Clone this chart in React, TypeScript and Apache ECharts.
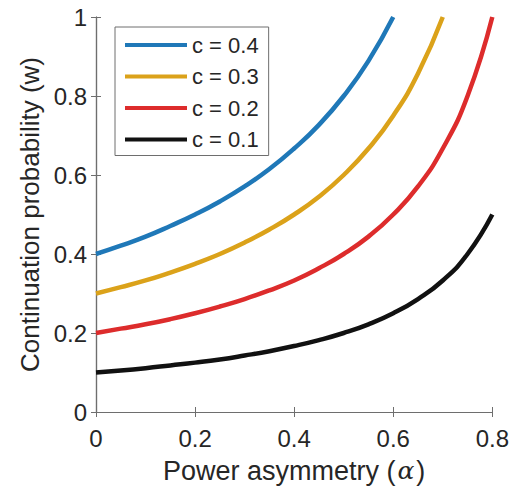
import React, { useEffect, useRef } from "react";
import * as echarts from "echarts";

const alpha = [0, 0.05, 0.1, 0.15, 0.2, 0.25, 0.3, 0.35, 0.4, 0.45, 0.5, 0.55, 0.6, 0.65, 0.7, 0.75, 0.8];
const seriesNames = ["c = 0.4", "c = 0.3", "c = 0.2", "c = 0.1"];
const w04 = [0.40, 0.421, 0.444, 0.471, 0.50, 0.533, 0.571, 0.615, 0.667, 0.727, 0.80, 0.889, 1.0];
const w03 = [0.30, 0.316, 0.333, 0.353, 0.375, 0.40, 0.429, 0.462, 0.50, 0.545, 0.60, 0.667, 0.75, 0.857, 1.0];
const w02 = [0.20, 0.211, 0.222, 0.235, 0.25, 0.267, 0.286, 0.308, 0.333, 0.364, 0.40, 0.444, 0.50, 0.571, 0.667, 0.80, 1.0];
const w01 = [0.10, 0.105, 0.111, 0.118, 0.125, 0.133, 0.143, 0.154, 0.167, 0.182, 0.20, 0.222, 0.25, 0.286, 0.333, 0.40, 0.50];
const colors = ["#1f78b8", "#dba21a", "#dd2c2c", "#111111"];

const FONT = "Liberation Sans, Arial, sans-serif";
const TXT = "#262626";
const AX = "#6e6e6e";

export default function App() {
  const ref = useRef<HTMLDivElement>(null);
  useEffect(() => {
    const chart = echarts.init(ref.current!, null, { renderer: "svg" });
    const allW = [w04, w03, w02, w01];
    const fmt = (v: number) => String(Number(v.toFixed(2)));
    const axisCommon = {
      axisLine: { show: true, lineStyle: { color: AX, width: 1.2 } },
      axisTick: { show: true, inside: true, length: 5, lineStyle: { color: AX } },
      splitLine: { show: false },
    };
    chart.setOption({
      animation: false,
      backgroundColor: "#ffffff",
      grid: { left: 96, right: 19, top: 17, bottom: 82, containLabel: false },
      legend: {
        orient: "vertical",
        left: 115,
        top: 27,
        data: seriesNames,
        icon: "rect",
        itemWidth: 62,
        itemHeight: 4,
        itemGap: 9.5,
        padding: [7, 10, 5, 10],
        backgroundColor: "#ffffff",
        borderColor: AX,
        borderWidth: 1,
        borderRadius: 0,
        textStyle: { color: TXT, fontSize: 22, lineHeight: 22, fontFamily: FONT },
      },
      xAxis: [
        {
          type: "value",
          min: 0,
          max: 0.8,
          interval: 0.2,
          name: "Power asymmetry ({a|\u03b1})",
          nameLocation: "middle",
          nameGap: 45,
          nameTextStyle: {
            color: TXT,
            fontSize: 27,
            fontFamily: FONT,
            rich: {
              a: { fontFamily: "DejaVu Serif, serif", fontStyle: "italic", fontSize: 25, color: TXT, padding: [0, 2, 0, 2] },
            },
          },
          axisLabel: { color: TXT, fontSize: 24, fontFamily: FONT, margin: 14, formatter: fmt },
          ...axisCommon,
        },
        {
          type: "value",
          position: "top",
          min: 0,
          max: 0.8,
          interval: 0.2,
          axisLabel: { show: false },
          ...axisCommon,
        },
      ],
      yAxis: [
        {
          type: "value",
          min: 0,
          max: 1,
          interval: 0.2,
          name: "Continuation probability (w)",
          nameLocation: "middle",
          nameGap: 53,
          nameTextStyle: { color: TXT, fontSize: 26, fontFamily: FONT },
          axisLabel: { color: TXT, fontSize: 24, fontFamily: FONT, margin: 9, formatter: fmt },
          ...axisCommon,
        },
        {
          type: "value",
          position: "right",
          min: 0,
          max: 1,
          interval: 0.2,
          axisLabel: { show: false },
          ...axisCommon,
        },
      ],
      series: seriesNames.map((name, i) => ({
        name,
        type: "line",
        smooth: true,
        showSymbol: false,
        symbol: "none",
        clip: true,
        color: colors[i],
        lineStyle: { width: 4.5, color: colors[i] },
        data: allW[i].map((v, j) => [alpha[j], v]),
      })),
    });
    return () => chart.dispose();
  }, []);
  return (
    <div
      ref={ref}
      style={{ position: "absolute", left: 0, top: 0, width: 512, height: 494 }}
    />
  );
}
